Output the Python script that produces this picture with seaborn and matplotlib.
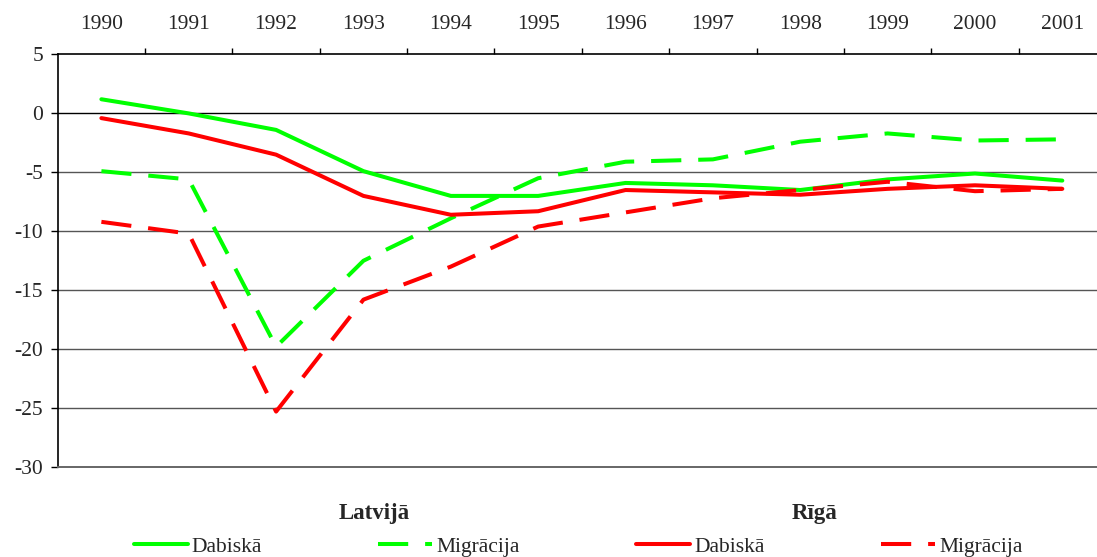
import numpy as np
import pandas as pd
import matplotlib.pyplot as plt
import seaborn as sns
from matplotlib.lines import Line2D

years = ['1990', '1991', '1992', '1993', '1994', '1995',
         '1996', '1997', '1998', '1999', '2000', '2001']

# Latvijā
lv_dabiska = [1.2, 0.0, -1.4, -4.9, -7.0, -7.0, -5.9, -6.1, -6.5, -5.6, -5.1, -5.7]
lv_migracija = [-4.9, -5.6, -19.8, -12.5, -8.9, -5.5, -4.1, -3.9, -2.4, -1.7, -2.3, -2.2]
# Rīgā
rg_dabiska = [-0.4, -1.7, -3.5, -7.0, -8.6, -8.3, -6.5, -6.7, -6.9, -6.4, -6.1, -6.4]
rg_migracija = [-9.2, -10.2, -25.3, -15.8, -13.0, -9.6, -8.4, -7.2, -6.5, -5.8, -6.6, -6.4]

ytick_vals = [5, 0, -5, -10, -15, -20, -25, -30]

sns.set_style("white")
plt.rcParams['font.family'] = ['Liberation Serif', 'DejaVu Serif']

fig = plt.figure(figsize=(10.97, 5.57), dpi=100)
ax = fig.add_axes([0.0526, 0.1616, 0.9556, 0.7406])

pos = np.arange(len(years))
df = pd.DataFrame({'pos': pos, 'lv_d': lv_dabiska, 'lv_m': lv_migracija,
                   'rg_d': rg_dabiska, 'rg_m': rg_migracija})

green = '#00FF00'
red = '#FF0000'
lw = 2.9
dash = (7.5, 4.2)
fs = 15.5

sns.lineplot(data=df, x='pos', y='lv_d', color=green, lw=lw, ax=ax)
sns.lineplot(data=df, x='pos', y='lv_m', color=green, lw=lw, ax=ax).lines[-1].set_dashes(dash)
sns.lineplot(data=df, x='pos', y='rg_d', color=red, lw=lw, ax=ax)
sns.lineplot(data=df, x='pos', y='rg_m', color=red, lw=lw, ax=ax).lines[-1].set_dashes(dash)

ax.set_xlim(-0.5, len(years) - 0.5)
ax.set_ylim(-30, 5)
ax.set_xlabel('')
ax.set_ylabel('')

# grid lines
for v in ytick_vals[1:-1]:
    ax.axhline(v, color='black' if v == 0 else '#555555', lw=1.0, zorder=0)

ax.spines['right'].set_visible(False)
ax.spines['left'].set_color('black')
ax.spines['left'].set_linewidth(1.2)
ax.spines['top'].set_color('black')
ax.spines['top'].set_linewidth(1.2)
ax.spines['bottom'].set_color('#666666')
ax.spines['bottom'].set_linewidth(1.4)

ax.set_yticks(ytick_vals)
ax.set_yticklabels([str(v) for v in ytick_vals], fontsize=fs)
ax.tick_params(axis='y', which='major', direction='out', length=5, width=1,
               color='black', pad=5.5, left=True)

ax.xaxis.tick_top()
ax.set_xticks(pos)
ax.set_xticklabels(years, fontsize=fs)
ax.set_xticks(np.arange(0.5, len(years) - 0.5), minor=True)
ax.tick_params(axis='x', which='major', length=0, pad=15, top=True, bottom=False)
ax.tick_params(axis='x', which='minor', direction='out', length=4, width=1,
               color='black', top=True, bottom=False)

# legend
handles = [
    Line2D([], [], color=green, lw=lw),
    Line2D([], [], color=green, lw=lw, dashes=dash),
    Line2D([], [], color=red, lw=lw),
    Line2D([], [], color=red, lw=lw, dashes=dash),
]
labels = ['Dabiskā', 'Migrācija', 'Dabiskā', 'Migrācija']
fig.legend(handles, labels, ncol=4, loc='center', bbox_to_anchor=(0.527, 0.018),
           frameon=False, fontsize=fs, handlelength=2.5, handletextpad=0.2,
           columnspacing=5.4, borderpad=0)

fig.text(374 / 1097, 1 - 514 / 557, 'Latvijā', ha='center', va='center',
         fontsize=16.5, fontweight='bold')
fig.text(815 / 1097, 1 - 514 / 557, 'Rīgā', ha='center', va='center',
         fontsize=16.5, fontweight='bold')

fig.savefig('out.png', dpi=100)
